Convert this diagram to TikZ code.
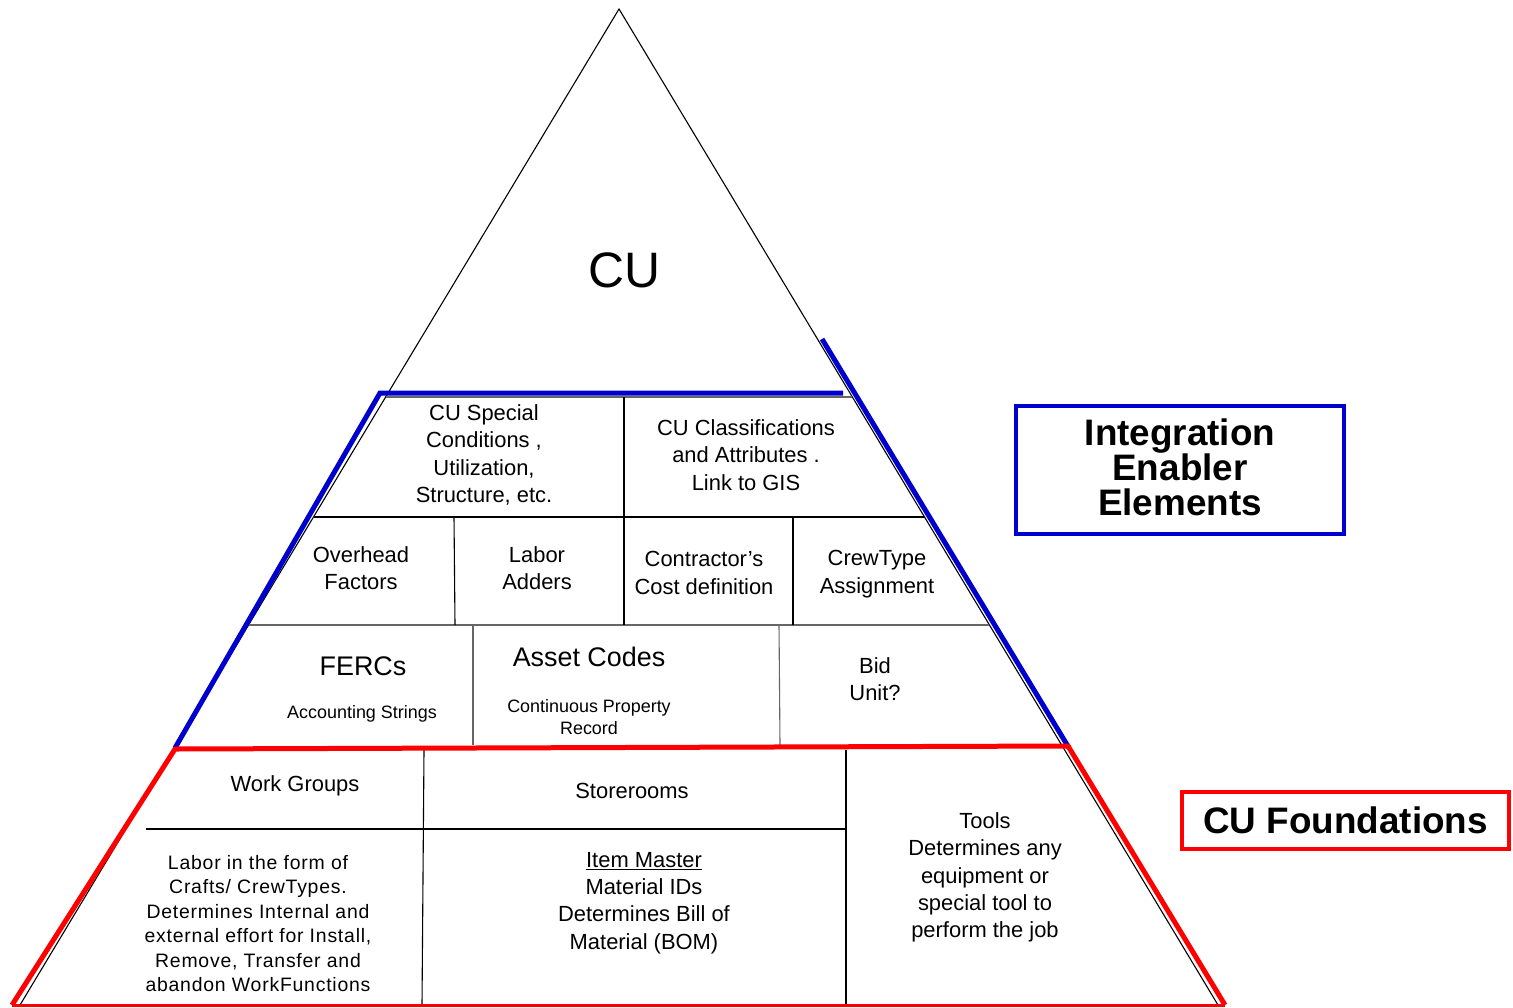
\documentclass[tikz,border=0pt]{standalone}
\usepackage{fontspec}
\setmainfont{Liberation Sans}
\newfontfamily\widesans[LetterSpace=4]{Liberation Sans}
\definecolor{eblue}{RGB}{0,0,204}
\definecolor{ered}{RGB}{255,0,0}
\begin{document}
\begin{tikzpicture}[x=1bp,y=-1bp,
  thin line/.style={draw=black,line width=1.1bp},
  grey line/.style={draw=black!60,line width=1.1bp},
  blue edge/.style={draw=eblue,line width=5bp},
  red edge/.style={draw=ered,line width=5bp},
  txt/.style={align=center,inner sep=0pt,font=\fontsize{22}{27.5}\selectfont},
  small txt/.style={align=center,inner sep=0pt,font=\widesans\fontsize{19.5}{24.5}\selectfont},
  big txt/.style={align=center,inner sep=0pt,font=\fontsize{27}{30}\selectfont},
  label box/.style={line width=4.5bp,inner sep=0pt,align=center,font=\fontsize{37}{35}\selectfont\bfseries}]
\useasboundingbox (0,0) rectangle (1513,1007);
% main triangle
\coordinate (apex) at (619,9);
\coordinate (bl) at (20,1005);
\coordinate (br) at (1218,1005);
\draw[thin line] (apex) -- (bl) -- (br) -- cycle;
% tier lines
\draw[grey line] (385.7,397) -- (852.3,397);
\draw[thin line] (313.5,517) -- (924.5,517);
\draw[grey line] (249,625) -- (989,625);
\draw[thin line] (146,829) -- (846,829);
% vertical dividers
\draw[thin line] (624,397) -- (624,517);
\draw[thin line] (454,517) -- (455,625);
\draw[thin line] (624,517) -- (624,625);
\draw[thin line] (793,517) -- (793,625);
\draw[grey line] (473,625) -- (473,745);
\draw[grey line] (779,625) -- (780,745);
\draw[thin line] (424,750) -- (422,1005);
\draw[thin line] (846,750) -- (846,1005);
% blue outline
\coordinate (b1) at (175,748);
\coordinate (b2) at (380,393);
\coordinate (b3) at (843,393);
\coordinate (b4) at (822,339);
\coordinate (b5) at (1069,748);
\draw[blue edge] (b1) -- (b2) -- (b3);
\draw[blue edge] (b4) -- (b5);
% red outline
\coordinate (r1) at (175,749);
\coordinate (r2) at (1068,746);
\coordinate (r3) at (12,1005);
\coordinate (r4) at (1225,1005);
\draw[red edge] (r3) -- (r1) -- (r2) -- (r4);
\draw[draw=ered,line width=3bp] (r3) -- (r4);
% top
\node[inner sep=0pt,font=\fontsize{50}{50}\selectfont] (cu) at (624,270) {CU};
% row 1
\node[txt] (special) at (484,455) {CU Special\\Conditions ,\\Utilization,\\Structure, etc.};
\node[txt] (classif) at (746,455) {CU Classifications\\and Attributes .\\Link to GIS};
% row 2
\node[txt] (overhead) at (361,568) {Overhead\\Factors};
\node[txt] (adders) at (537,568) {Labor\\Adders};
\node[txt] (contractor) at (704,573) {Contractor’s\\Cost definition};
\node[txt] (crewtype) at (877,574) {CrewType\\Assignment};
% row 3
\node[big txt] (fercs) at (363,666) {FERCs};
\node[inner sep=0pt,font=\fontsize{18}{22}\selectfont] (acct) at (362,714) {Accounting Strings};
\node[big txt] (asset) at (589,657) {Asset Codes};
\node[inner sep=0pt,align=center,font=\fontsize{18}{22}\selectfont] (cpr) at (589,717) {Continuous Property\\Record};
\node[txt] (bid) at (875,679) {Bid\\Unit?};
% bottom tier
\node[txt] (workgroups) at (295,786) {Work Groups};
\node[txt] (storerooms) at (632,791) {Storerooms};
\node[small txt] (labor) at (258,923.5) {Labor in the form of\\Crafts/ CrewTypes.\\Determines Internal and\\external effort for Install,\\Remove, Transfer and\\abandon WorkFunctions};
\node[txt] (item) at (644,903) {\underline{Item Master}\\Material IDs\\Determines Bill of\\Material (BOM)};
\node[txt] (tools) at (985,877.5) {Tools\\Determines any\\equipment or\\special tool to\\perform the job};
% legend boxes
\node[label box,draw=eblue,minimum width=328bp,minimum height=128bp] (integ) at (1180,470) {};
\node[inner sep=0pt,align=center,font=\fontsize{37}{35}\selectfont\bfseries] (integtxt) at (1180,467) {Integration\\Enabler\\Elements};
\node[label box,draw=ered,minimum width=327bp,minimum height=57bp] (found) at (1345.5,820.5) {CU Foundations};
\end{tikzpicture}
\end{document}
